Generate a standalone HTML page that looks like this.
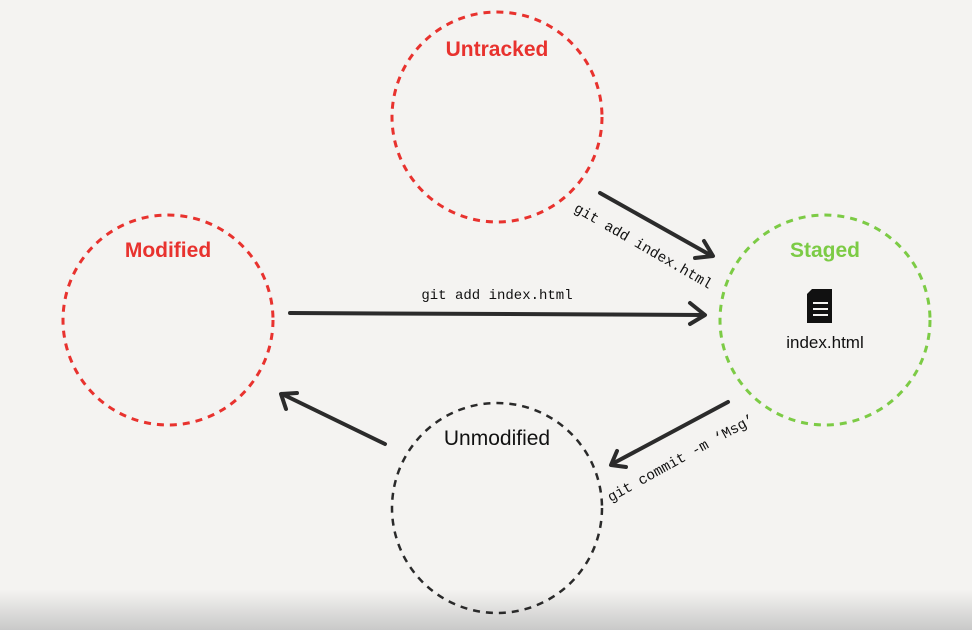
<!DOCTYPE html>
<html><head><style>
body{margin:0;width:972px;height:630px;overflow:hidden;background:#f4f3f1;}
svg{display:block}
</style></head><body>
<svg width="972" height="630" xmlns="http://www.w3.org/2000/svg">
<defs><linearGradient id="g" x1="0" y1="0" x2="0" y2="1"><stop offset="0" stop-color="#f4f3f1"/><stop offset="1" stop-color="#c9c9c9"/></linearGradient></defs>
<rect x="0" y="590" width="972" height="40" fill="url(#g)"/>
<g fill="none" stroke-width="3" stroke-dasharray="7 6">
<circle cx="497" cy="117" r="105" stroke="#e8322e"/>
<circle cx="168" cy="320" r="105" stroke="#e8322e"/>
<circle cx="825" cy="320" r="105" stroke="#7ccb45"/>
<circle cx="497" cy="508" r="105" stroke="#2a2a2a" stroke-width="2.5"/>
</g>
<g font-family="Liberation Sans, sans-serif" font-weight="bold" font-size="21" text-anchor="middle">
<text x="497" y="56" fill="#e8322e">Untracked</text>
<text x="168" y="257" fill="#e8322e">Modified</text>
<text x="825" y="257" fill="#7ccb45">Staged</text>
<text x="497" y="445" fill="#111" font-weight="normal" font-size="21">Unmodified</text>
<text x="825" y="348" fill="#111" font-weight="normal" font-size="17">index.html</text>
</g>
<path d="M812 289h20v34h-25v-29z" fill="#111"/>
<g stroke="#f4f3f1" stroke-width="2"><line x1="813" y1="303" x2="828" y2="303"/><line x1="813" y1="309" x2="828" y2="309"/><line x1="813" y1="315" x2="828" y2="315"/></g>
<g stroke="#2b2b2b" stroke-width="4" fill="none" stroke-linecap="round" stroke-linejoin="round">
<line x1="600" y1="193" x2="712" y2="256"/><polyline points="704,241 713,256 695,258"/>
<line x1="290" y1="313" x2="703" y2="315"/><polyline points="690,303 705,315 690,324"/>
<line x1="728" y1="402" x2="612" y2="464"/><polyline points="617,451 611,465 626,467"/>
<line x1="385" y1="444" x2="282" y2="394"/><polyline points="286,409 281,394 297,393"/>
</g>
<g font-family="Liberation Mono, monospace" font-size="14" fill="#111" text-anchor="middle">
<text x="497" y="299">git add index.html</text>
<text transform="translate(641,250) rotate(30)" font-size="14.5">git add index.html</text>
<text transform="translate(683,462) rotate(-29)" font-size="14.5">git commit -m ‘Msg’</text>
</g>
</svg>
</body></html>
